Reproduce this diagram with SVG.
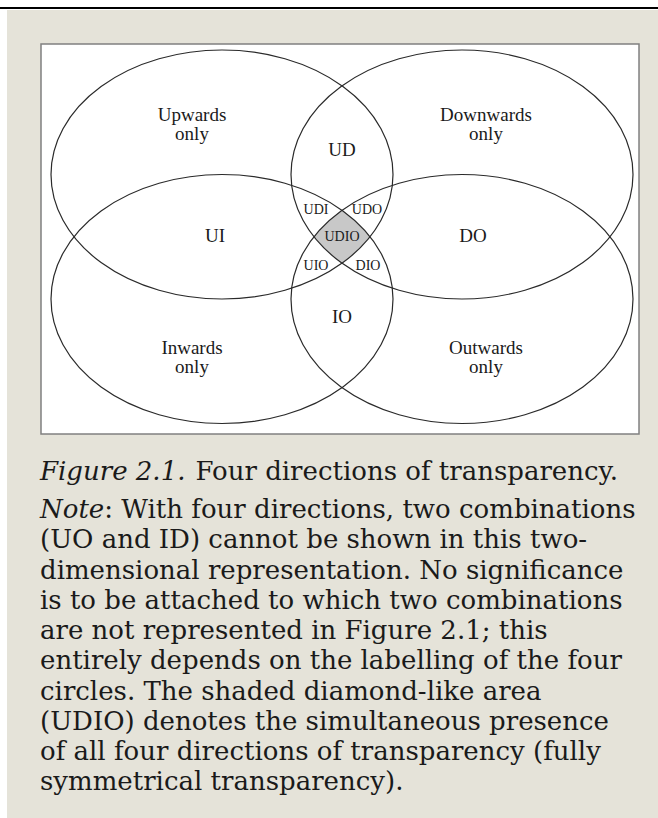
<svg xmlns="http://www.w3.org/2000/svg" width="658" height="818" viewBox="0 0 658 818">
<style>
.ell{fill:none;stroke:#2a2a2a;stroke-width:1.2}
.lbl{font-family:"Liberation Serif","Times New Roman",serif;font-size:19px;fill:#1a1a1a;text-anchor:middle}
.sm{font-family:"Liberation Serif","Times New Roman",serif;font-size:14px;fill:#1a1a1a;text-anchor:middle}
.cap{font-family:"DejaVu Serif",serif;font-size:26px;fill:#1a1a1a}
</style>
<rect x="0" y="0" width="658" height="818" fill="#ffffff"/>
<rect x="0" y="7" width="658" height="2" fill="#000000"/>
<rect x="7" y="10" width="651" height="808" fill="#e5e3d9"/>
<rect x="41" y="44" width="598" height="390" fill="#ffffff" stroke="#808080" stroke-width="1.5"/>
<g id="udio-shade">
<path d="M342,210.3 A171,124.5 0 0 1 370.1,236.75 A171,124.5 0 0 1 342,263.2 A171,124.5 0 0 1 313.9,236.75 A171,124.5 0 0 1 342,210.3 Z" fill="#c8c8c8"/>
</g>
<g id="upwards"><ellipse class="ell" cx="222" cy="174.5" rx="171" ry="124.5"/></g>
<g id="downwards"><ellipse class="ell" cx="462" cy="174.5" rx="171" ry="124.5"/></g>
<g id="inwards"><ellipse class="ell" cx="222" cy="299" rx="171" ry="124.5"/></g>
<g id="outwards"><ellipse class="ell" cx="462" cy="299" rx="171" ry="124.5"/></g>
<g id="labels">
<text class="lbl" x="192" y="121">Upwards</text>
<text class="lbl" x="192" y="140">only</text>
<text class="lbl" x="486" y="121">Downwards</text>
<text class="lbl" x="486" y="140">only</text>
<text class="lbl" x="342" y="156">UD</text>
<text class="lbl" x="215" y="242">UI</text>
<text class="lbl" x="473" y="242">DO</text>
<text class="lbl" x="342" y="323">IO</text>
<text class="lbl" x="192" y="354">Inwards</text>
<text class="lbl" x="192" y="373">only</text>
<text class="lbl" x="486" y="354">Outwards</text>
<text class="lbl" x="486" y="373">only</text>
<text class="sm" x="316" y="214">UDI</text>
<text class="sm" x="367" y="214">UDO</text>
<text class="sm" x="342" y="241">UDIO</text>
<text class="sm" x="316" y="270">UIO</text>
<text class="sm" x="368" y="270">DIO</text>
</g>
<g id="caption">
<text class="cap" x="40" y="480"><tspan font-style="italic">Figure 2.1.</tspan><tspan dx="10">Four directions of transparency.</tspan></text>
<text class="cap" x="40" y="518"><tspan font-style="italic">Note</tspan>: With four directions, two combinations</text>
<text class="cap" x="40" y="548.3">(UO and ID) cannot be shown in this two-</text>
<text class="cap" x="40" y="578.5">dimensional representation. No significance</text>
<text class="cap" x="40" y="608.8">is to be attached to which two combinations</text>
<text class="cap" x="40" y="639">are not represented in Figure 2.1; this</text>
<text class="cap" x="40" y="669.3">entirely depends on the labelling of the four</text>
<text class="cap" x="40" y="699.6">circles. The shaded diamond-like area</text>
<text class="cap" x="40" y="729.8">(UDIO) denotes the simultaneous presence</text>
<text class="cap" x="40" y="760">of all four directions of transparency (fully</text>
<text class="cap" x="40" y="790.3">symmetrical transparency).</text>
</g>
</svg>
